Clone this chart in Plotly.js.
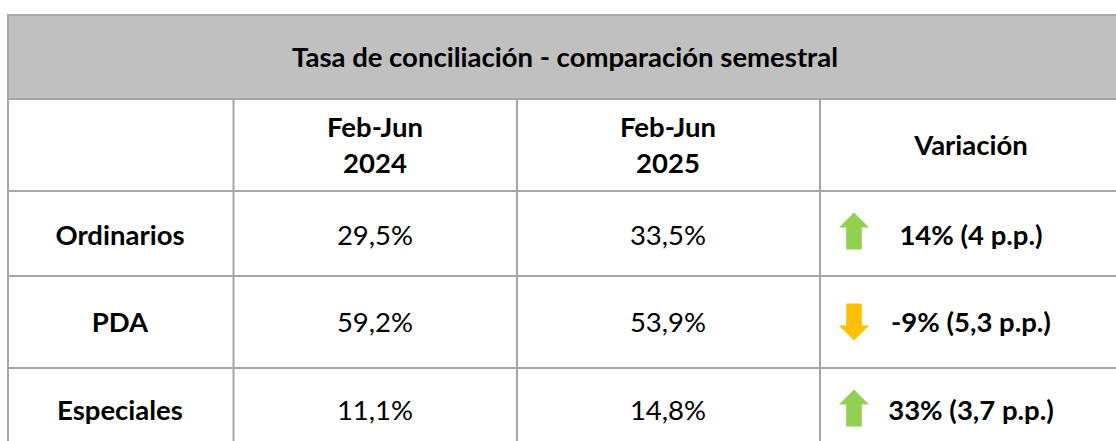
<!DOCTYPE html>
<html>
<head>
<meta charset="utf-8">
<script src="https://cdn.plot.ly/plotly-3.0.1.min.js"></script>
<style>
  html, body { margin: 0; padding: 0; background: #ffffff; }
  #chart { width: 1116px; height: 441px; }
</style>
</head>
<body>
<div id="chart"></div>
<script>
// ---------------- DATA ----------------
const tableTitle = "Tasa de conciliación - comparación semestral";
const periodHeaders = ["Feb-Jun<br>2024", "Feb-Jun<br>2025"];
const variationHeader = "Variación";
const categories = ["Ordinarios", "PDA", "Especiales"];
const rate2024 = [29.5, 59.2, 11.1];          // %
const rate2025 = [33.5, 53.9, 14.8];          // %
const variationPct = [14, -9, 33];            // % relative change
const variationPP = [4, 5.3, 3.7];            // percentage points
// --------------------------------------

const fmt = v => String(v).replace(".", ",");
const valueLabels2024 = rate2024.map(v => fmt(v) + "%");
const valueLabels2025 = rate2025.map(v => fmt(v) + "%");
const variationLabels = variationPct.map((p, i) => p + "% (" + fmt(variationPP[i]) + " p.p.)");

// ---------------- LAYOUT GEOMETRY ----------------
const W = 1116, H = 441;
const colEdges = [8, 233.5, 517, 820, 1130];
const rowEdges = [15, 99, 191, 276, 368, 460];
const colCenters = [120, 375, 668, 971];
const rowTextY = [238, 325, 413];
const headerY = 148;
const arrowX = 854;
const arrowOffsetY = [-7, -3, -5];
const FONT = "Lato, 'Open Sans', sans-serif";
const BORDER = "#a6a6a6";
const BOLD_SIZE = 27.5, REG_SIZE = 27.5;

const traces = [
  { // row labels
    x: categories.map(() => colCenters[0]), y: rowTextY, text: categories.map(c => "<b>" + c + "</b>"),
    mode: "text", textposition: "middle center",
    textfont: { family: FONT, size: BOLD_SIZE, color: "#000" }, hoverinfo: "skip", showlegend: false
  },
  { // 2024
    x: valueLabels2024.map(() => colCenters[1]), y: rowTextY, text: valueLabels2024,
    mode: "text", textposition: "middle center",
    textfont: { family: FONT, size: REG_SIZE, color: "#000" }, hoverinfo: "skip", showlegend: false
  },
  { // 2025
    x: valueLabels2025.map(() => colCenters[2]), y: rowTextY, text: valueLabels2025,
    mode: "text", textposition: "middle center",
    textfont: { family: FONT, size: REG_SIZE, color: "#000" }, hoverinfo: "skip", showlegend: false
  },
  { // variation
    x: variationLabels.map(() => colCenters[3]), y: rowTextY, text: variationLabels.map(t => "<b>" + t + "</b>"),
    mode: "text", textposition: "middle center",
    textfont: { family: FONT, size: BOLD_SIZE, color: "#000" }, hoverinfo: "skip", showlegend: false
  },
  { // column headers
    x: [colCenters[1], colCenters[2], colCenters[3]], y: [headerY, headerY, headerY],
    text: periodHeaders.concat([variationHeader]).map(t => "<b>" + t + "</b>"),
    mode: "text", textposition: "middle center",
    textfont: { family: FONT, size: BOLD_SIZE, color: "#000" }, hoverinfo: "skip", showlegend: false
  }
];

const shapes = [];
// title band
shapes.push({ type: "rect", xref: "x", yref: "y", x0: colEdges[0], x1: colEdges[4], y0: rowEdges[0], y1: rowEdges[1],
  fillcolor: "#c0c0c0", line: { color: BORDER, width: 2 }, layer: "below" });
// horizontal lines
for (let r = 1; r < rowEdges.length - 1; r++) {
  shapes.push({ type: "line", xref: "x", yref: "y", x0: colEdges[0], x1: colEdges[4], y0: rowEdges[r], y1: rowEdges[r],
    line: { color: BORDER, width: 2 } });
}
// vertical lines
shapes.push({ type: "line", xref: "x", yref: "y", x0: colEdges[0], x1: colEdges[0], y0: rowEdges[0], y1: rowEdges[5],
  line: { color: BORDER, width: 2 } });
for (let c = 1; c < colEdges.length - 1; c++) {
  shapes.push({ type: "line", xref: "x", yref: "y", x0: colEdges[c], x1: colEdges[c], y0: rowEdges[1], y1: rowEdges[5],
    line: { color: BORDER, width: 2 } });
}
// arrows from variation sign
variationPct.forEach((p, i) => {
  const cy = rowTextY[i] + arrowOffsetY[i];
  const up = p >= 0;
  const s = up ? 1 : -1;
  const hw = 15, sw = 7.8, tip = 18.5, neck = 3.5;
  const yTip = cy - s * tip, yNeck = cy - s * neck, yEnd = cy + s * tip;
  const path = `M ${arrowX} ${yTip} L ${arrowX + hw} ${yNeck} L ${arrowX + sw} ${yNeck} L ${arrowX + sw} ${yEnd} ` +
               `L ${arrowX - sw} ${yEnd} L ${arrowX - sw} ${yNeck} L ${arrowX - hw} ${yNeck} Z`;
  shapes.push({ type: "path", xref: "x", yref: "y", path: path,
    fillcolor: up ? "#92d050" : "#ffc000", line: { width: 0 } });
});

const layout = {
  width: W, height: H,
  margin: { l: 0, r: 0, t: 0, b: 0, pad: 0 },
  paper_bgcolor: "#ffffff", plot_bgcolor: "#ffffff",
  title: { text: "<b>" + tableTitle + "</b>", x: 565 / W, xanchor: "center", y: 1 - 57.5 / H, yanchor: "middle",
    font: { family: FONT, size: BOLD_SIZE, color: "#000" } },
  xaxis: { range: [0, W], visible: false, fixedrange: true },
  yaxis: { range: [H, 0], visible: false, fixedrange: true },
  shapes: shapes,
  showlegend: false
};

Plotly.newPlot("chart", traces, layout, { staticPlot: true, displayModeBar: false });
</script>
</body>
</html>
